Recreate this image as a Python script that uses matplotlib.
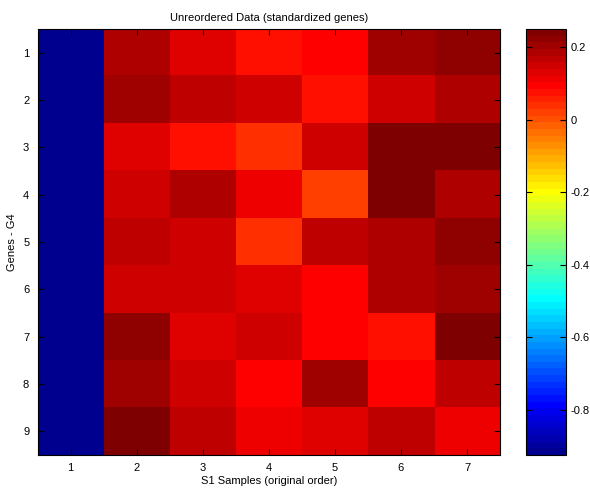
import numpy as np
import matplotlib
matplotlib.use("Agg")
import matplotlib.pyplot as plt
from matplotlib.colors import ListedColormap

plt.rcParams['font.family'] = ['Liberation Sans', 'DejaVu Sans']
plt.rcParams['font.size'] = 8
plt.rcParams['axes.unicode_minus'] = False

# standardized expression, rows = genes 1..9, cols = samples 1..7
g1 = [-0.915, 0.186, 0.131, 0.076, 0.094, 0.204, 0.222]
g2 = [-0.917, 0.204, 0.167, 0.149, 0.076, 0.149, 0.186]
g3 = [-0.912, 0.131, 0.076, 0.039, 0.149, 0.241, 0.250]
g4 = [-0.916, 0.149, 0.186, 0.112, 0.021, 0.241, 0.186]
g5 = [-0.914, 0.167, 0.149, 0.039, 0.167, 0.186, 0.222]
g6 = [-0.924, 0.149, 0.149, 0.131, 0.094, 0.186, 0.204]
g7 = [-0.913, 0.222, 0.131, 0.149, 0.094, 0.076, 0.241]
g8 = [-0.918, 0.204, 0.149, 0.094, 0.204, 0.094, 0.167]
g9 = [-0.911, 0.241, 0.167, 0.112, 0.131, 0.167, 0.112]
samples = [1, 2, 3, 4, 5, 6, 7]
genes = [1, 2, 3, 4, 5, 6, 7, 8, 9]
cbar_ticks = [-0.8, -0.6, -0.4, -0.2, 0, 0.2]

data = np.array([g1, g2, g3, g4, g5, g6, g7, g8, g9])


def matlab_jet(m=64):
    # same construction as MATLAB's jet(m)
    n = int(np.ceil(m / 4))
    u = np.concatenate([np.arange(1, n + 1) / n, np.ones(n - 1), np.arange(n, 0, -1) / n])
    g = int(np.ceil(n / 2)) - (1 if m % 4 == 1 else 0) + np.arange(1, len(u) + 1)
    r = g + n
    b = g - n
    J = np.zeros((m, 3))
    ok = r <= m
    J[r[ok] - 1, 0] = u[ok]
    ok = (g >= 1) & (g <= m)
    J[g[ok] - 1, 1] = u[ok]
    ok = b >= 1
    J[b[ok] - 1, 2] = u[ok]
    return ListedColormap(J)


fig = plt.figure(figsize=(5.9, 4.9), dpi=100)
ax = fig.add_axes([0.0637, 0.0714, 0.7838, 0.8694])
im = ax.imshow(data, cmap=matlab_jet(64), vmin=data.min(), vmax=data.max(),
               aspect='auto', interpolation='nearest',
               extent=(0.5, len(samples) + 0.5, len(genes) + 0.5, 0.5))
ax.set_xticks(samples)
ax.set_yticks(genes)
ax.tick_params(direction='in', length=4, top=True, right=True, labelsize=8, pad=6)
ax.set_title("Unreordered Data (standardized genes)", fontsize=8, pad=6)
ax.set_xlabel("S1 Samples (original order)", fontsize=8, labelpad=2)
ax.set_ylabel("Genes - G4", fontsize=8, labelpad=4)

cax = fig.add_axes([0.8915, 0.0714, 0.0678, 0.8694])
cb = fig.colorbar(im, cax=cax)
cb.set_ticks(cbar_ticks)
cb.set_ticklabels(["-0.8", "-0.6", "-0.4", "-0.2", "0", "0.2"])
cax.tick_params(direction='in', length=4, left=True, right=True, labelsize=8, pad=3)
cb.outline.set_linewidth(0.8)

fig.savefig("out.png", dpi=100)
